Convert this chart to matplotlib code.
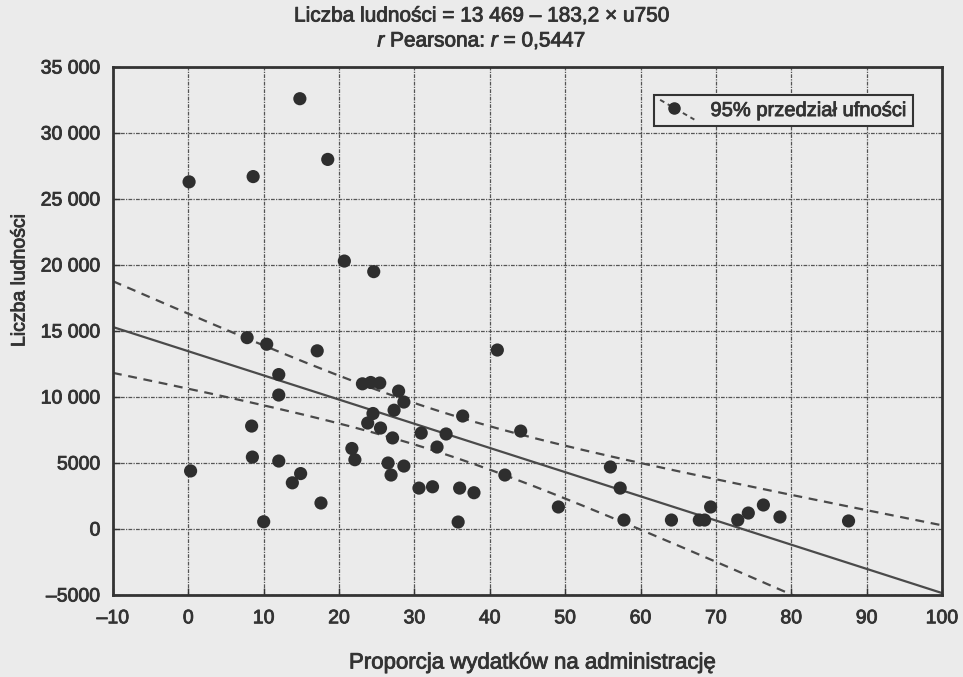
import matplotlib
matplotlib.use("Agg")
from matplotlib import pyplot as plt
from matplotlib.lines import Line2D
from matplotlib.legend_handler import HandlerBase
import matplotlib.patheffects as pe
import numpy as np

plt.rcParams['font.family'] = ['Liberation Sans', 'DejaVu Sans']
plt.rcParams['mathtext.fontset'] = 'custom'
plt.rcParams['mathtext.it'] = 'Liberation Sans:italic'
plt.rcParams['mathtext.rm'] = 'Liberation Sans'

# data
admin_share = [0.1, 8.6, 14.8, 18.5, 20.7, 24.6, 7.8, 10.4, 17.1, 12.0,
               12.0, 23.1, 24.2, 25.4, 27.9, 28.6, 27.3, 24.5, 23.8, 25.5,
               27.1, 21.7, 22.1, 26.5, 28.6, 26.9, 8.4, 8.5, 12.0, 0.3,
               14.9, 13.8, 17.6, 10.0, 30.9, 33.0, 34.2, 36.4, 44.1, 41.0,
               30.6, 32.4, 36.0, 37.9, 35.8, 42.0, 49.1, 56.0, 57.3, 57.8,
               64.1, 67.8, 68.5, 69.3, 72.9, 74.3, 76.3, 78.5, 87.6]
population = [26300, 26700, 32600, 28000, 20300, 19500, 14500, 14000, 13500, 11700,
              10150, 11000, 11100, 11060, 10450, 9620, 9000, 8750, 8030, 7650,
              6900, 6100, 5250, 5000, 4770, 4090, 7800, 5450, 5150, 4400,
              4200, 3500, 1970, 550, 7270, 6210, 7200, 8560, 7420, 13560,
              3100, 3200, 3100, 2750, 530, 4090, 1670, 4700, 3100, 680,
              680, 680, 680, 1670, 680, 1210, 1820, 910, 610]

intercept = 13469
slope = -183.2
t_crit = 1.92

x_ticks = [-10, 0, 10, 20, 30, 40, 50, 60, 70, 80, 90, 100]
y_ticks = [-5000, 0, 5000, 10000, 15000, 20000, 25000, 30000, 35000]

x = np.array(admin_share)
y = np.array(population)

# regression line + 95% confidence band for the mean
xs = np.linspace(-10, 100, 300)
fit = intercept + slope * xs
resid = y - (intercept + slope * x)
n = len(x)
s = np.sqrt(np.sum(resid ** 2) / (n - 2))
sxx = np.sum((x - x.mean()) ** 2)
hw = t_crit * s * np.sqrt(1 / n + (xs - x.mean()) ** 2 / sxx)

bg = '#ebebeb'
ink = '#333333'
lc = '#4a4a4a'
heavy = [pe.withStroke(linewidth=0.6, foreground=ink)]


class DiagHandler(HandlerBase):
    # dashed diagonal with a dot, like the legend key in the original
    def create_artists(self, legend, orig_handle, xdescent, ydescent,
                       width, height, fontsize, trans):
        x0, y0 = -xdescent, -ydescent
        ln = Line2D([x0, x0 + width], [y0 + height * 1.15, y0 - height * 0.25],
                    color=lc, ls=(0, (2.5, 2)), lw=1.4, transform=trans)
        dot = Line2D([x0 + width * 0.4], [y0 + height * 0.6], marker='o',
                     ms=8, color='#2e2e2e', ls='none', transform=trans)
        return [ln, dot]


fig = plt.figure(figsize=(9.63, 6.77), dpi=100, facecolor=bg)
ax = fig.add_axes([0.1173, 0.1211, 0.8609, 0.7799], facecolor=bg)

ax.plot(xs, fit, color=lc, lw=1.6, zorder=2)
ax.plot(xs, fit + hw, color=lc, lw=1.6, ls=(0, (4, 3)), zorder=2)
ax.plot(xs, fit - hw, color=lc, lw=1.6, ls=(0, (4, 3)), zorder=2)
ax.scatter(x, y, s=90, color='#2e2e2e', edgecolor='none', zorder=3)

ax.set_xlim(-10, 100)
ax.set_ylim(-5000, 35000)
ax.set_xticks(x_ticks)
ax.set_yticks(y_ticks)


def fmt(v):
    a = abs(int(v))
    txt = f"{a:,}".replace(',', ' ') if a >= 10000 else str(a)
    return ('–' if v < 0 else '') + txt


ax.set_xticklabels([fmt(v) for v in x_ticks])
ax.set_yticklabels([fmt(v) for v in y_ticks])
ax.tick_params(direction='in', length=5, width=1, colors=ink, labelsize=14)
ax.tick_params(axis='x', pad=11)
ax.tick_params(axis='y', pad=9)
for lab in ax.get_xticklabels() + ax.get_yticklabels():
    lab.set_path_effects(heavy)

ax.grid(True, color='#555555', lw=0.9, ls=(0, (3, 1, 1, 1)))
ax.set_axisbelow(True)
for sp in ax.spines.values():
    sp.set_color(ink)
    sp.set_linewidth(2)

leg = ax.legend([object()], ['95% przedział ufności'], loc='upper right',
                handler_map={object: DiagHandler()},
                bbox_to_anchor=(0.965, 0.947), fontsize=14.5, frameon=True,
                fancybox=False, handlelength=1.7, borderpad=0.3,
                handletextpad=0.8, borderaxespad=0)
leg.get_frame().set_facecolor(bg)
leg.get_frame().set_edgecolor(ink)
leg.get_frame().set_linewidth(1.5)
leg.get_frame().set_alpha(1)
for t in leg.get_texts():
    t.set_color(ink)
    t.set_path_effects(heavy)

kw = dict(ha='center', va='center', color=ink, path_effects=heavy)
fig.text(0.5005, 1 - 16 / 677, 'Liczba ludności = 13 469 – 183,2 × u750',
         fontsize=15, **kw)
fig.text(0.5005, 1 - 41 / 677, '$r$ Pearsona: $r$ = 0,5447', fontsize=15, **kw)
fig.text(533 / 963, 1 - 663 / 677, 'Proporcja wydatków na administrację',
         fontsize=16, **kw)
fig.text(20 / 963, 1 - 280 / 677, 'Liczba ludności', rotation=90,
         fontsize=14, **kw)

fig.savefig('out.png', dpi=100, facecolor=bg)
